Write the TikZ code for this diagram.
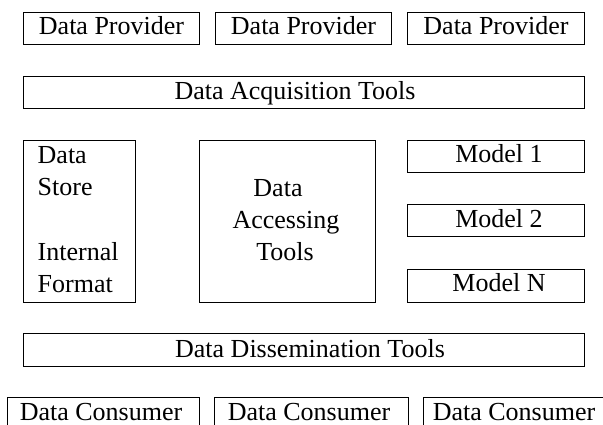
\documentclass[tikz,border=0pt]{standalone}
\usepackage{fontspec}
\setmainfont{Liberation Serif}
\begin{document}
\begin{tikzpicture}[x=1pt,y=-1pt,
  box/.style={draw,line width=1pt,rectangle,inner sep=0pt},
  lbl/.style={font=\fontsize{26}{30}\selectfont,inner sep=0pt,anchor=base},
  lblw/.style={lbl,anchor=base west}]
\useasboundingbox (0,0) rectangle (603,425);
\clip (0,0) rectangle (603,425);
% boxes
\node[box,minimum width=176pt,minimum height=32pt] (p1) at (111,29) {};
\node[box,minimum width=176pt,minimum height=32pt] (p2) at (303,29) {};
\node[box,minimum width=177pt,minimum height=32pt] (p3) at (495.5,29) {};
\node[box,minimum width=561pt,minimum height=32pt] (acq) at (303.5,93) {};
\node[box,minimum width=112pt,minimum height=161pt] (store) at (79,221.5) {};
\node[box,minimum width=176pt,minimum height=161pt] (access) at (287,221.5) {};
\node[box,minimum width=177pt,minimum height=32pt] (m1) at (495.5,157) {};
\node[box,minimum width=177pt,minimum height=32pt] (m2) at (495.5,221) {};
\node[box,minimum width=177pt,minimum height=33pt] (mn) at (495.5,285.5) {};
\node[box,minimum width=561pt,minimum height=33pt] (diss) at (303.5,349.5) {};
\node[box,minimum width=192pt,minimum height=46pt] (c1) at (103,420) {};
\node[box,minimum width=194pt,minimum height=46pt] (c2) at (311,420) {};
\node[box,minimum width=200pt,minimum height=46pt] (c3) at (523,420) {};
% texts
\node[lbl] (tp1) at (111.5,35) {Data Provider};
\node[lbl] (tp2) at (303.5,35) {Data Provider};
\node[lbl] (tp3) at (496,35) {Data Provider};
\node[lbl] (tacq) at (295,100) {Data Acquisition Tools};
\node[lblw] (ts1) at (37.5,163.5) {Data};
\node[lblw] (ts2) at (37.5,196) {Store};
\node[lblw] (ts3) at (37.5,260) {Internal};
\node[lblw] (ts4) at (37.5,292) {Format};
\node[lbl] (ta1) at (278,196.5) {Data};
\node[lbl] (ta2) at (286,228.5) {Accessing};
\node[lbl] (ta3) at (285,260.5) {Tools};
\node[lbl] (tm1) at (499,163) {Model 1};
\node[lbl] (tm2) at (499,227) {Model 2};
\node[lbl] (tmn) at (499,291.5) {Model N};
\node[lbl] (tdiss) at (310,357) {Data Dissemination Tools};
\node[lbl] (tc1) at (101,420) {Data Consumer};
\node[lbl] (tc2) at (309,420) {Data Consumer};
\node[lbl] (tc3) at (514,420) {Data Consumer};
\end{tikzpicture}
\end{document}
